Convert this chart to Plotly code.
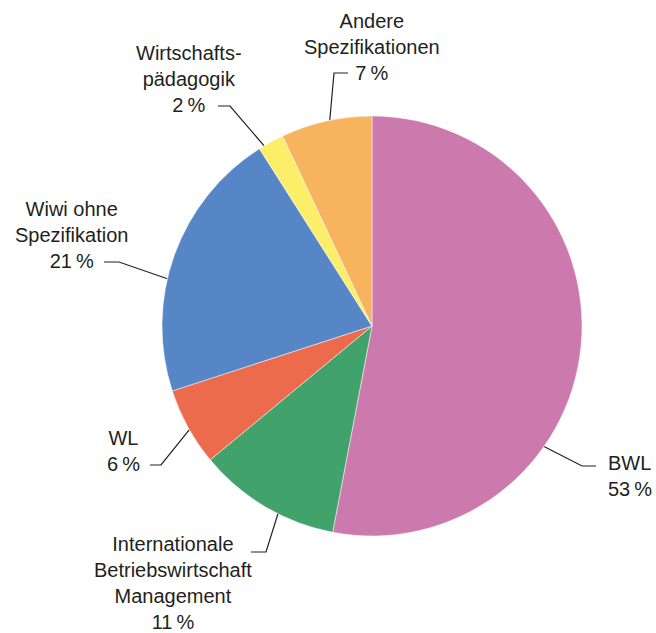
import math
import plotly.graph_objects as go

# ---- data ----
categories = ["BWL", "Internationale Betriebswirtschaft Management", "WL",
              "Wiwi ohne Spezifikation", "Wirtschaftspädagogik", "Andere Spezifikationen"]
shares = [53, 11, 6, 21, 2, 7]
label_texts = ["BWL", "Internationale<br>Betriebswirtschaft<br>Management", "WL",
               "Wiwi ohne<br>Spezifikation", "Wirtschafts-<br>pädagogik", "Andere<br>Spezifikationen"]
colors = ["#CC79AE", "#41A36B", "#EC6B4C", "#5686C6", "#FDEE6A", "#F7B35E"]

# ---- layout (pixel geometry) ----
W, H = 656, 633
CX, CY, R = 372, 326, 210
# leader line: start angle (deg clockwise from 12 o'clock), elbow, end
leaders = [
    (125.0, (582, 466), (596, 466)),
    (206.6, (266, 552), (251, 552)),
    (240.4, (161, 465), (150, 465)),
    (283.0, (119, 262), (104, 262)),
    (329.1, (230, 106), (218, 106)),
    (348.4, (334, 73), (348, 73)),
]
# text block anchor (x, y of block centre, align)
text_pos = [
    (607, 476, "left"),
    (173, 583, "center"),
    (123, 451, "center"),
    (71, 235, "center"),
    (189, 79, "center"),
    (372, 47, "center"),
]

fig = go.Figure()
fig.add_trace(go.Pie(
    labels=categories, values=shares, sort=False, direction="clockwise", rotation=0,
    marker=dict(colors=colors, line=dict(color="white", width=0.5)),
    textinfo="none", hoverinfo="skip", showlegend=False,
    domain=dict(x=[(CX - R) / W, (CX + R) / W], y=[(H - CY - R) / H, (H - CY + R) / H]),
))

annotations = []
for i, (ang, elbow, end) in enumerate(leaders):
    a = math.radians(ang)
    sx = CX + R * math.sin(a)
    sy = CY - R * math.cos(a)
    fig.add_trace(go.Scatter(
        x=[sx, elbow[0], end[0]], y=[sy, elbow[1], end[1]], mode="lines",
        line=dict(color="#231F20", width=1.2), hoverinfo="skip", showlegend=False,
    ))
    tx, ty, al = text_pos[i]
    txt = f"{label_texts[i]}<br>{shares[i]}\u2009%"
    annotations.append(dict(
        x=tx, y=ty, xref="x", yref="y", text=txt, showarrow=False,
        xanchor=al, yanchor="middle", align=al, borderpad=0,
        font=dict(family="Liberation Sans, Arial, sans-serif", size=20, color="#231F20"),
    ))

fig.update_layout(
    width=W, height=H, margin=dict(l=0, r=0, t=0, b=0),
    paper_bgcolor="white", plot_bgcolor="rgba(0,0,0,0)",
    xaxis=dict(range=[0, W], visible=False, domain=[0, 1], fixedrange=True),
    yaxis=dict(range=[H, 0], visible=False, domain=[0, 1], fixedrange=True),
    annotations=annotations,
)
fig.write_html("out.html")
